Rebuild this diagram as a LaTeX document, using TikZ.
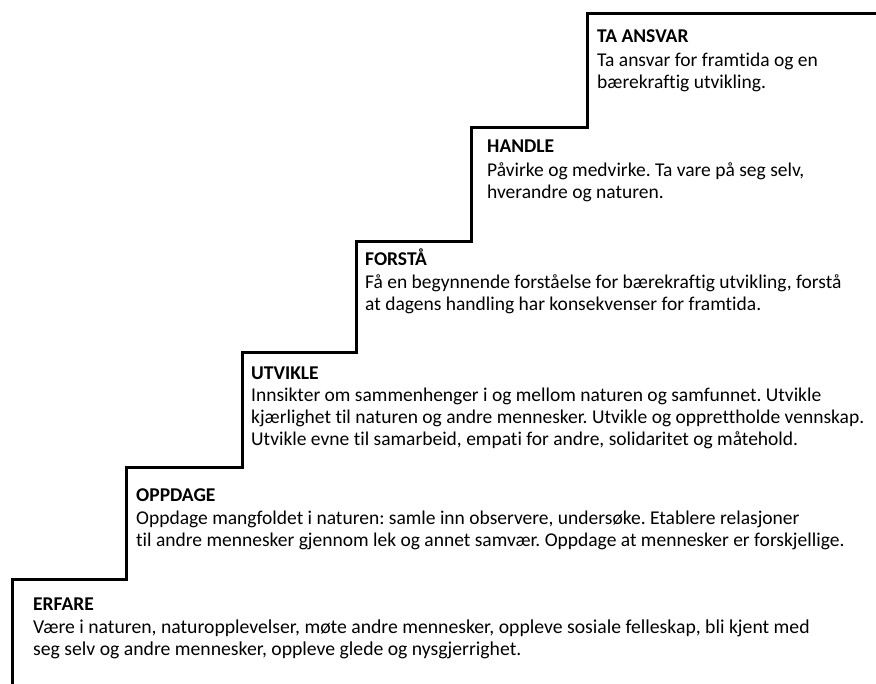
\documentclass[tikz,border=0pt]{standalone}
\usepackage{fontspec}
\setmainfont{Carlito}[Ligatures=NoCommon]
\begin{document}
\frenchspacing
\begin{tikzpicture}[x=1pt,y=-1pt,
  txt/.style={anchor=base west,inner sep=0pt,font=\fontsize{19.5}{22}\selectfont},
  txtw/.style={anchor=base west,inner sep=0pt,font=\fontsize{19.7}{22}\selectfont},
  ttl/.style={txt,font=\fontsize{19.5}{22}\selectfont\bfseries},
  stair/.style={line width=3pt,line join=miter,line cap=butt}]
\useasboundingbox (0,0) rectangle (876,684);
% staircase corners
\coordinate (s0) at (12,684);
\coordinate (s1) at (12,579);
\coordinate (s2) at (126,579);
\coordinate (s3) at (126,468);
\coordinate (s4) at (242,468);
\coordinate (s5) at (242,353);
\coordinate (s6) at (356,353);
\coordinate (s7) at (356,242);
\coordinate (s8) at (471,242);
\coordinate (s9) at (471,128);
\coordinate (s10) at (587,128);
\coordinate (s11) at (587,14);
\coordinate (s12) at (878,14);
\draw[stair] (s0) -- (s1) -- (s2) -- (s3) -- (s4) -- (s5) -- (s6) -- (s7) -- (s8) -- (s9) -- (s10) -- (s11) -- (s12);
% ERFARE
\node[ttl] (t1) at (33,610) {ERFARE};
\node[txtw] (b1a) at (33,633) {Være i naturen, naturopplevelser, møte andre mennesker, oppleve sosiale felleskap, bli kjent med};
\node[txtw] (b1b) at (33,655) {seg selv og andre mennesker, oppleve glede og nysgjerrighet.};
% OPPDAGE
\node[ttl] (t2) at (136,501) {OPPDAGE};
\node[txt] (b2a) at (136,524) {Oppdage mangfoldet i naturen: samle inn observere, undersøke. Etablere relasjoner};
\node[txt] (b2b) at (136,546) {til andre mennesker gjennom lek og annet samvær. Oppdage at mennesker er forskjellige.};
% UTVIKLE
\node[ttl] (t3) at (251,380) {UTVIKLE};
\node[txt] (b3a) at (251,402) {Innsikter om sammenhenger i og mellom naturen og samfunnet. Utvikle};
\node[txt] (b3b) at (251,424) {kjærlighet til naturen og andre mennesker. Utvikle og opprettholde vennskap.};
\node[txt] (b3c) at (251,446) {Utvikle evne til samarbeid, empati for andre, solidaritet og måtehold.};
% FORSTÅ
\node[ttl] (t4) at (365,266) {FORSTÅ};
\node[txt] (b4a) at (365,289) {Få en begynnende forståelse for bærekraftig utvikling, forstå};
\node[txt] (b4b) at (365,311) {at dagens handling har konsekvenser for framtida.};
% HANDLE
\node[ttl] (t5) at (487,153) {HANDLE};
\node[txt] (b5a) at (487,177) {Påvirke og medvirke. Ta vare på seg selv,};
\node[txt] (b5b) at (487,199) {hverandre og naturen.};
% TA ANSVAR
\node[ttl] (t6) at (597,43) {TA ANSVAR};
\node[txt] (b6a) at (597,67) {Ta ansvar for framtida og en};
\node[txt] (b6b) at (597,89) {bærekraftig utvikling.};
\end{tikzpicture}
\end{document}
